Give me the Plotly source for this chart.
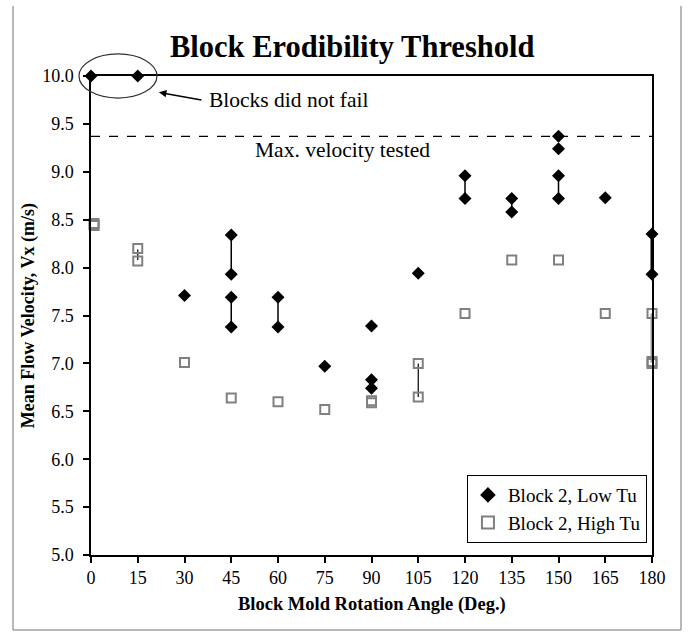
import plotly.graph_objects as go

# ---- data ----
low_x = [0, 15, 30, 45, 45, 45, 45, 60, 60, 75, 90, 90, 90, 105, 120, 120,
         135, 135, 150, 150, 150, 150, 165, 180, 180]
low_y = [10.0, 10.0, 7.71, 8.34, 7.93, 7.69, 7.38, 7.69, 7.38, 6.97, 7.39, 6.83, 6.74,
         7.94, 8.96, 8.72, 8.72, 8.58, 9.37, 9.24, 8.96, 8.72, 8.73, 8.35, 7.93]

high_x = [1, 1, 15, 15, 30, 45, 60, 75, 90, 90, 105, 105, 120, 135, 150, 165, 180, 180, 180]
high_y = [8.44, 8.46, 8.20, 8.07, 7.01, 6.64, 6.60, 6.52, 6.59, 6.61, 7.00, 6.65,
          7.52, 8.08, 8.08, 7.52, 7.52, 7.00, 7.02]

# range bars (x, low, high)
low_seg_x = [45, 45, 60, 120, 135, 150]
low_seg_lo = [7.93, 7.38, 7.38, 8.72, 8.58, 8.72]
low_seg_hi = [8.34, 7.69, 7.69, 8.96, 8.72, 8.96]
low_thick_x = [180]
low_thick_lo = [7.93]
low_thick_hi = [8.35]
high_seg_x = [15, 105]
high_seg_lo = [8.08, 6.65]
high_seg_hi = [8.19, 7.00]
high_thick_x = [180]
high_thick_lo = [7.01]
high_thick_hi = [7.52]

max_tested = 9.37
x_ticks = [0, 15, 30, 45, 60, 75, 90, 105, 120, 135, 150, 165, 180]
y_ticks = [5.0, 5.5, 6.0, 6.5, 7.0, 7.5, 8.0, 8.5, 9.0, 9.5, 10.0]

FONT = "Liberation Serif"


def seg(xs, lo, hi):
    sx, sy = [], []
    for a, b, c in zip(xs, lo, hi):
        sx += [a, a, None]
        sy += [b, c, None]
    return sx, sy


fig = go.Figure()
for xs, lo, hi, col, w in [
    (low_seg_x, low_seg_lo, low_seg_hi, "black", 1.5),
    (low_thick_x, low_thick_lo, low_thick_hi, "black", 3),
    (high_seg_x, high_seg_lo, high_seg_hi, "black", 1.2),
    (high_thick_x, high_thick_lo, high_thick_hi, "#9a9a9a", 3),
]:
    sx, sy = seg(xs, lo, hi)
    fig.add_trace(go.Scatter(x=sx, y=sy, mode="lines", line=dict(color=col, width=w),
                             showlegend=False, hoverinfo="skip", cliponaxis=False))

fig.add_trace(go.Scatter(x=low_x, y=low_y, mode="markers", name="Block 2, Low Tu",
                         marker=dict(symbol="diamond", size=10, color="black"),
                         cliponaxis=False))
fig.add_trace(go.Scatter(x=high_x, y=high_y, mode="markers", name="Block 2, High Tu",
                         marker=dict(symbol="square-open", size=9, color="#808080",
                                     line=dict(width=2, color="#808080")),
                         cliponaxis=False))

fig.add_hline(y=max_tested, line=dict(color="black", width=1.2, dash="dash"))

axis_common = dict(showline=True, linecolor="black", linewidth=1.5, mirror=True,
                   showgrid=False, zeroline=False, ticks="outside", ticklen=6,
                   tickcolor="black", tickwidth=1.5,
                   tickfont=dict(family=FONT, size=18, color="black"))

fig.update_xaxes(range=[0, 180], tickvals=x_ticks, **axis_common)
fig.update_yaxes(range=[5, 10], tickvals=y_ticks, tickformat=".1f",
                 ticklabelstandoff=6, **axis_common)

fig.update_layout(
    width=688, height=633,
    margin=dict(l=91, r=36, t=76, b=78),
    paper_bgcolor="white", plot_bgcolor="white",
    font=dict(family=FONT, color="black"),
    showlegend=True,
    legend=dict(x=0.991, y=0.025, xanchor="right", yanchor="bottom",
                bordercolor="black", borderwidth=1, bgcolor="white",
                font=dict(family=FONT, size=19, color="black"),
                tracegroupgap=0, itemsizing="constant"),
    shapes=[
        dict(type="line", xref="paper", yref="paper", x0=-0.139, x1=1.0517,
             y0=1.146, y1=1.146, line=dict(color="#a0a0a0", width=1.5)),
        dict(type="line", xref="paper", yref="paper", x0=-0.139, x1=1.0517,
             y0=-0.1566, y1=-0.1566, line=dict(color="#a0a0a0", width=1.5)),
        dict(type="line", xref="paper", yref="paper", x0=-0.139, x1=-0.139,
             y0=-0.1566, y1=1.146, line=dict(color="#a0a0a0", width=1.5)),
        dict(type="line", xref="paper", yref="paper", x0=1.0517, x1=1.0517,
             y0=-0.1566, y1=1.146, line=dict(color="#a0a0a0", width=1.5)),
        dict(type="circle", xref="paper", yref="paper", x0=-0.0214, x1=0.1176,
             y0=0.954, y1=1.046, line=dict(color="#303030", width=1.2)),
    ],
    annotations=[
        dict(text="<b>Block Erodibility Threshold</b>", xref="paper", yref="paper",
             x=0.465, y=1.06, xanchor="center", yanchor="middle", showarrow=False,
             font=dict(family=FONT, size=30.5, color="black")),
        dict(text="<b>Mean Flow Velocity, Vx (m/s)</b>", xref="paper", yref="paper",
             x=-0.111, y=0.5, xanchor="center", yanchor="middle", textangle=-90,
             showarrow=False, font=dict(family=FONT, size=18, color="black")),
        dict(text="<b>Block Mold Rotation Angle (Deg.)</b>", xref="paper", yref="paper",
             x=0.5, y=-0.104, xanchor="center", yanchor="middle", showarrow=False,
             font=dict(family=FONT, size=18.5, color="black")),
        dict(text="Blocks did not fail", x=37.2, y=9.75, xanchor="left", yanchor="middle",
             showarrow=False, font=dict(family=FONT, size=21.5, color="black")),
        dict(text="", x=21.8, y=9.83, ax=44, ay=8, showarrow=True, arrowhead=2,
             arrowsize=1, arrowwidth=1.5, arrowcolor="black"),
        dict(text="Max. velocity tested", x=80.8, y=9.23, xanchor="center",
             yanchor="middle", showarrow=False,
             font=dict(family=FONT, size=21.5, color="black")),
    ],
)

fig.write_html("out.html", config={"displayModeBar": False},
               post_script="document.body.style.margin='0';document.body.style.padding='0';")
